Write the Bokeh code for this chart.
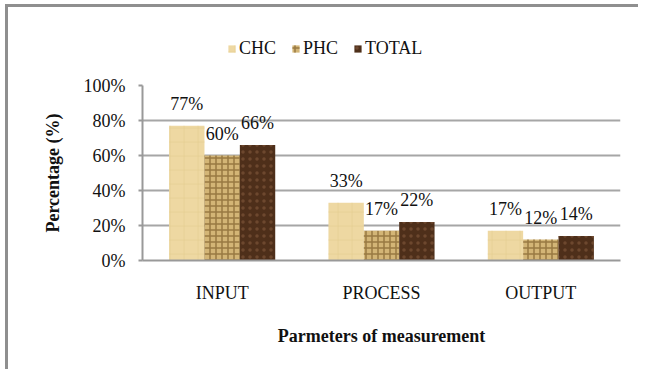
from bokeh.plotting import figure
from bokeh.layouts import column
from bokeh.models import (ColumnDataSource, FactorRange, Range1d, FixedTicker,
                          PrintfTickFormatter, LabelSet, Legend, LegendItem)
from bokeh.transform import dodge
from bokeh.embed import file_html
from bokeh.resources import INLINE

categories = ["INPUT", "PROCESS", "OUTPUT"]
chc = [77, 33, 17]
phc = [60, 17, 12]
total = [66, 22, 14]
series_names = ["CHC", "PHC", "TOTAL"]
y_ticks = [0, 20, 40, 60, 80, 100]

FONT = "Liberation Serif"
TXT = "#111111"
GRID = "#a6a6a6"
BORDER = "3px solid #8f8f8f"

src = ColumnDataSource(dict(
    cat=categories, chc=chc, phc=phc, total=total,
    chc_l=[f"{v}%" for v in chc], phc_l=[f"{v}%" for v in phc],
    total_l=[f"{v}%" for v in total],
))

xr = FactorRange(*categories)

w = 0.222
specs = [
    ("chc", -w, dict(fill_color="#eed8a2", hatch_pattern="+", hatch_color="#e3c98f",
                     hatch_scale=14, hatch_weight=1, hatch_alpha=0.6)),
    ("phc", 0.0, dict(fill_color="#d3b576", hatch_pattern="+", hatch_color="#8a6a35",
                      hatch_scale=6, hatch_weight=1.5, hatch_alpha=0.8)),
    ("total", w, dict(fill_color="#4e2f1a", hatch_pattern="dot", hatch_color="#7a5236",
                      hatch_scale=7, hatch_weight=2, hatch_alpha=0.7)),
]

# ---- legend strip (top) ----
lf = figure(x_range=xr, y_range=Range1d(1000, 1001), width=633, height=60,
            output_backend="svg", toolbar_location=None,
            x_axis_location=None, y_axis_location=None,
            min_border_left=0, min_border_right=0, min_border_top=0, min_border_bottom=0)
lf.styles = {"border-left": BORDER, "border-top": BORDER,
             "margin-left": "5px", "margin-top": "4px"}
lf.outline_line_color = None
lf.grid.grid_line_color = None
leg_renderers = [lf.vbar(x=dodge("cat", off, range=xr), top=col, width=w, source=src,
                         line_color=None, **style) for col, off, style in specs]
legend = Legend(items=[LegendItem(label=n, renderers=[r]) for n, r in zip(series_names, leg_renderers)],
                orientation="horizontal", location=(85, 8),
                glyph_width=9, glyph_height=9, label_standoff=3, spacing=15,
                padding=0, margin=0, border_line_color=None, background_fill_alpha=0,
                label_text_font=FONT, label_text_font_size="18px", label_text_color=TXT)
lf.add_layout(legend, "center")

# ---- main chart ----
p = figure(x_range=xr, y_range=Range1d(0, 100),
           width=633, height=305, output_backend="svg", toolbar_location=None,
           min_border_left=134, min_border_right=21, min_border_top=21,
           min_border_bottom=109)
p.styles = {"border-left": BORDER, "margin-left": "5px"}
p.background_fill_color = "white"
p.border_fill_color = "white"
p.outline_line_color = None

for col, off, style in specs:
    p.vbar(x=dodge("cat", off, range=xr), top=col, width=w, source=src,
           line_color=None, **style)
    p.add_layout(LabelSet(x=dodge("cat", off, range=xr), y=col, text=col + "_l",
                          source=src, text_align="center", text_baseline="alphabetic",
                          y_offset=16, text_font=FONT, text_font_size="18px",
                          text_color=TXT))

p.xgrid.grid_line_color = None
p.ygrid.grid_line_color = GRID
p.ygrid.grid_line_width = 2
p.yaxis.ticker = FixedTicker(ticks=y_ticks)
p.yaxis.formatter = PrintfTickFormatter(format="%d%%")

for ax in (p.xaxis[0], p.yaxis[0]):
    ax.axis_line_color = "#999999"
    ax.axis_line_width = 2
    ax.major_label_text_font = FONT
    ax.major_label_text_font_size = "18px"
    ax.major_label_text_color = TXT
    ax.axis_label_text_font = FONT
    ax.axis_label_text_font_size = "18px"
    ax.axis_label_text_font_style = "bold"
    ax.axis_label_text_color = TXT
    ax.minor_tick_line_color = None

p.xaxis.axis_label = "Parmeters of measurement"
p.xaxis.major_tick_line_color = None
p.xaxis.major_tick_out = 0
p.xaxis.major_label_standoff = 22
p.xaxis.axis_label_standoff = 20

p.yaxis.axis_label = "Percentage (%)"
p.yaxis.major_tick_line_color = "#999999"
p.yaxis.major_tick_line_width = 2
p.yaxis.major_tick_out = 4
p.yaxis.major_tick_in = 0
p.yaxis.major_label_standoff = 13
p.yaxis.axis_label_standoff = 18

layout = column(lf, p)
open("out.html", "w").write(file_html(layout, INLINE))
